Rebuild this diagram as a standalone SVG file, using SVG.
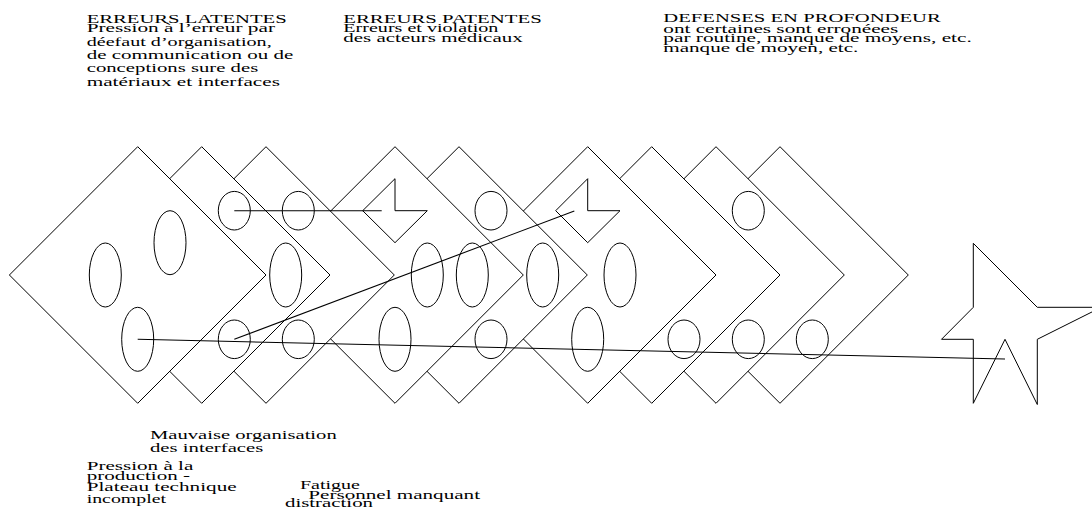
<svg xmlns="http://www.w3.org/2000/svg" width="1092" height="518" viewBox="0 0 1092 518">
<style>
.d{fill:#fff;stroke:#000;stroke-width:1}
.e{fill:none;stroke:#000;stroke-width:1}
.c{fill:none;stroke:#000;stroke-width:1.1}
text{font-family:"Liberation Serif","DejaVu Serif",serif;font-size:12.5px;fill:#000}
.h{font-size:13.5px}
.s{font-size:11.5px}
</style>
<rect width="1092" height="518" fill="#fff"/>
<g id="layer-9"><polygon class="d" points="780,146.7 908.3,275 780,403.3 651.7,275"/><ellipse class="e" cx="812.3" cy="339.3" rx="16" ry="19.3"/></g>
<g id="layer-8"><polygon class="d" points="716,146.7 844.3,275 716,403.3 587.7,275"/><ellipse class="e" cx="748.3" cy="210.7" rx="16" ry="19.3"/><ellipse class="e" cx="748.3" cy="339.3" rx="16" ry="19.3"/></g>
<g id="layer-7"><polygon class="d" points="651.7,146.7 780,275 651.7,403.3 523.4,275"/><ellipse class="e" cx="684" cy="339.3" rx="16" ry="19.3"/></g>
<g id="layer-6"><polygon class="d" points="587.7,146.7 716,275 587.7,403.3 459.4,275"/><polygon class="e" points="555.7,210.7 587.7,178.7 587.7,210.7 620,210.7 587.7,242.7"/><ellipse class="e" cx="620" cy="275" rx="16" ry="32"/><ellipse class="e" cx="587.7" cy="339.3" rx="16" ry="32"/></g>
<g id="layer-5"><polygon class="d" points="459,146.7 587.3,275 459,403.3 330.7,275"/><ellipse class="e" cx="491" cy="210.7" rx="16" ry="19.3"/><ellipse class="e" cx="542.7" cy="275" rx="16" ry="32"/><ellipse class="e" cx="491" cy="339.3" rx="16" ry="19.3"/></g>
<g id="layer-4"><polygon class="d" points="395,146.7 523.3,275 395,403.3 266.7,275"/><polygon class="e" points="362.7,210.7 395,178.7 395,210.7 427.3,210.7 395,242.7"/><ellipse class="e" cx="427.3" cy="275" rx="16" ry="32"/><ellipse class="e" cx="472.3" cy="275" rx="16" ry="32"/><ellipse class="e" cx="395" cy="339.3" rx="16" ry="32"/></g>
<g id="layer-3"><polygon class="d" points="266,146.7 394.3,275 266,403.3 137.7,275"/><ellipse class="e" cx="298.3" cy="210.7" rx="16" ry="19.3"/><ellipse class="e" cx="298.3" cy="339.3" rx="16" ry="19.3"/></g>
<g id="layer-2"><polygon class="d" points="201.7,146.7 330,275 201.7,403.3 73.4,275"/><ellipse class="e" cx="234.3" cy="210.7" rx="16" ry="19.3"/><ellipse class="e" cx="285.7" cy="275" rx="16" ry="32"/><ellipse class="e" cx="234.3" cy="339.3" rx="16" ry="19.3"/></g>
<g id="layer-1"><polygon class="d" points="137.7,146.7 266,275 137.7,403.3 9.4,275"/><ellipse class="e" cx="105.3" cy="275" rx="16" ry="32"/><ellipse class="e" cx="170" cy="242.7" rx="16" ry="32"/><ellipse class="e" cx="137.7" cy="339.3" rx="16" ry="32"/></g>
<g id="accident"><polygon class="e" points="973.3,243.3 1037.3,307.3 1101.3,307.3 1037.3,339.3 1037.3,404.5 1005,339.3 973.3,403.3 973.3,339.3 941.5,339.3 973.3,307.3"/></g>
<g id="connectors">
<line class="c" x1="234.3" y1="210.7" x2="381.7" y2="210.7"/>
<line class="c" x1="234.3" y1="339.3" x2="574.3" y2="211"/>
<line class="c" x1="137.7" y1="339.3" x2="1005" y2="359"/>
</g>
<g id="latentes">
<text class="h" x="86.7" y="22.5" textLength="200" lengthAdjust="spacingAndGlyphs">ERREURS LATENTES</text>
<text x="86.7" y="32.3" textLength="188.3" lengthAdjust="spacingAndGlyphs">Pression à l’erreur par</text>
<text x="86.7" y="46" textLength="185" lengthAdjust="spacingAndGlyphs">déefaut d’organisation,</text>
<text x="86.7" y="59" textLength="206.6" lengthAdjust="spacingAndGlyphs">de communication ou de</text>
<text x="86.7" y="72" textLength="171.6" lengthAdjust="spacingAndGlyphs">conceptions sure des</text>
<text x="86.7" y="86" textLength="193.3" lengthAdjust="spacingAndGlyphs">matériaux et interfaces</text>
</g>
<g id="patentes">
<text class="h" x="343.3" y="22.5" textLength="198.4" lengthAdjust="spacingAndGlyphs">ERREURS PATENTES</text>
<text x="343.3" y="32.3" textLength="155" lengthAdjust="spacingAndGlyphs">Erreurs et violation</text>
<text x="343.3" y="42.3" textLength="179.4" lengthAdjust="spacingAndGlyphs">des acteurs médicaux</text>
</g>
<g id="defenses">
<text class="h" x="663.3" y="22.3" textLength="277.5" lengthAdjust="spacingAndGlyphs">DEFENSES EN PROFONDEUR</text>
<text class="s" x="663.3" y="32.8" textLength="235" lengthAdjust="spacingAndGlyphs">ont certaines sont erronéees</text>
<text class="s" x="663.3" y="42.3" textLength="308.5" lengthAdjust="spacingAndGlyphs">par routine, manque de moyens, etc.</text>
<text class="s" x="663.3" y="52" textLength="195" lengthAdjust="spacingAndGlyphs">manque de moyen, etc.</text>
</g>
<g id="label-interfaces">
<text x="150" y="438.5" textLength="186.7" lengthAdjust="spacingAndGlyphs">Mauvaise organisation</text>
<text x="150" y="452" textLength="113.3" lengthAdjust="spacingAndGlyphs">des interfaces</text>
</g>
<g id="label-production">
<text x="86.7" y="469.5" textLength="106.6" lengthAdjust="spacingAndGlyphs">Pression à la</text>
<text x="86.7" y="480" textLength="103.3" lengthAdjust="spacingAndGlyphs">production -</text>
<text x="86.7" y="491" textLength="150" lengthAdjust="spacingAndGlyphs">Plateau technique</text>
<text x="86.7" y="502.5" textLength="79.3" lengthAdjust="spacingAndGlyphs">incomplet</text>
</g>
<g id="label-fatigue">
<text x="300" y="488.5" textLength="60" lengthAdjust="spacingAndGlyphs">Fatigue</text>
<text x="308.3" y="498.5" textLength="171.7" lengthAdjust="spacingAndGlyphs">Personnel manquant</text>
<text x="285" y="507" textLength="88" lengthAdjust="spacingAndGlyphs">distraction</text>
</g>
</svg>
